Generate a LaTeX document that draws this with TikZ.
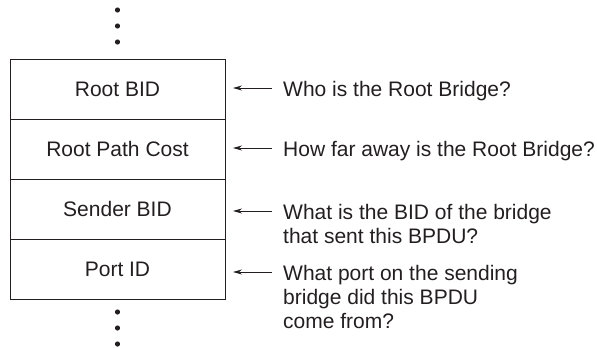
\documentclass[tikz,border=0pt]{standalone}
\usepackage{fontspec}
\setmainfont{Liberation Sans}
\usetikzlibrary{arrows.meta, positioning}
\definecolor{ink}{HTML}{231F20}

\begin{document}
\begin{tikzpicture}[x=1pt, y=-1pt, color=ink,
  field/.style={draw, line width=0.8pt, minimum width=215pt, minimum height=60pt,
    inner sep=0pt, outer sep=0pt, font=\fontsize{21}{24}\selectfont},
  question/.style={align=left, inner sep=0pt, anchor=base west,
    font=\fontsize{21}{24}\selectfont},
  pointer/.style={-{Stealth[length=9pt,width=5pt]}, line width=0.8pt}]
  \def\bx{117.5}
  \useasboundingbox (0,0) rectangle (597,348);

  % the BPDU fields
  \node[field] (rbid) at (\bx,89) {Root BID};
  \node[field, below=0pt of rbid] (cost) {Root Path Cost};
  \node[field, below=0pt of cost] (sbid) {Sender BID};
  \node[field, below=0pt of sbid] (port) {Port ID};

  % more fields above and below
  \foreach \y in {10,26,42,312,328,344}
    \fill (\bx,\y) circle (2.6pt);

  % questions (base is the last line, so drop 24pt per extra line)
  \coordinate (t1) at (272,88);
  \coordinate (t2) at (272,148);
  \coordinate (t3) at (272,211);
  \coordinate (t4) at (272,272);
  \node[question] (q1) at ([xshift=11pt, yshift=-8pt]t1) {Who is the Root Bridge?};
  \node[question] (q2) at ([xshift=11pt, yshift=-8pt]t2) {How far away is the Root Bridge?};
  \node[question] (q3) at ([xshift=11pt, yshift=-32pt]t3) {What is the BID of the bridge\\that sent this BPDU?};
  \node[question] (q4) at ([xshift=11pt, yshift=-56pt]t4) {What port on the sending\\bridge did this BPDU\\come from?};

  \draw[pointer] (t1) -- ([xshift=8pt]rbid.east |- t1);
  \draw[pointer] (t2) -- ([xshift=8pt]cost.east |- t2);
  \draw[pointer] (t3) -- ([xshift=8pt]sbid.east |- t3);
  \draw[pointer] (t4) -- ([xshift=8pt]port.east |- t4);
\end{tikzpicture}
\end{document}
